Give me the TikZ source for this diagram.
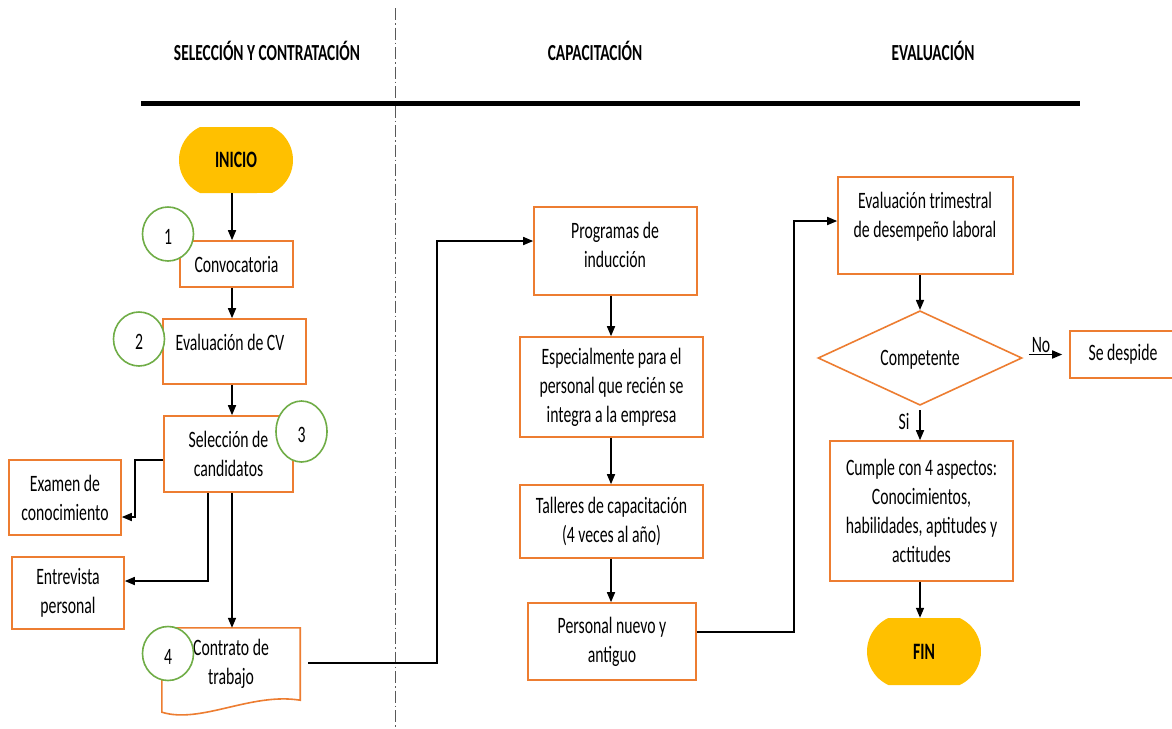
\documentclass[tikz,border=0pt]{standalone}
\usepackage{fontspec}
\setmainfont{Carlito}[FakeStretch=0.67]
\usetikzlibrary{arrows.meta,shapes.geometric,shapes.misc,calc}
\definecolor{orng}{HTML}{ED7D31}
\definecolor{gold}{HTML}{FFC000}
\definecolor{grn}{HTML}{70AD47}
\definecolor{dline}{HTML}{595959}
\begin{document}
\begin{tikzpicture}[x=1pt,y=-1pt,
  txt/.style={font=\fontsize{23.5}{29}\selectfont, align=center, inner sep=0pt},
  box/.style={draw=orng, line width=1.6pt, rectangle, inner sep=0pt, txt},
  term/.style={rounded rectangle, rounded rectangle arc length=130, fill=gold, inner sep=0pt,
    font=\fontsize{23.5}{29}\selectfont\bfseries, minimum width=114pt, minimum height=66pt},
  num/.style={ellipse, draw=grn, line width=1.6pt, fill=white, minimum width=51pt,
    minimum height=54pt, inner sep=0pt, text height=21pt, text depth=0pt, font=\fontsize{23.5}{29}\selectfont},
  con/.style={line width=1.6pt},
  arr/.style={line width=1.6pt, -{Triangle[length=10pt,width=8pt]}},
  head/.style={font=\fontsize{23}{28}\selectfont\bfseries, inner sep=0pt}]

\fill[white] (0,0) rectangle (1172,728);
\useasboundingbox (0,0) rectangle (1172,728);

% lane separators
\draw[dline, line width=0.8pt, dash pattern=on 12pt off 3pt on 1.5pt off 3pt] (395,8) -- (395,728);
\draw[line width=5pt] (141,103) -- (1080,103);

% headers
\node[head] (h1) at (267,51) {SELECCIÓN Y CONTRATACIÓN};
\node[head] (h2) at (595,51) {CAPACITACIÓN};
\node[head] (h3) at (933,51) {EVALUACIÓN};

% column 1
\node[term] (ini) at (236,160) {INICIO};
\node[box, minimum width=113pt, minimum height=46pt] (conv) at (236.5,264) {Convocatoria};
\node[box, minimum width=143pt, minimum height=65pt] (cv) at (234.5,351.5) {};
\node[txt] (cvT) at (230,342) {Evaluación de CV};
\node[box, minimum width=129pt, minimum height=76pt] (sel) at (228.5,454) {Selección de\\candidatos};
\node[box, minimum width=112pt, minimum height=75pt] (exam) at (65,497.5) {Examen de\\conocimiento};
\node[box, minimum width=112pt, minimum height=72pt] (entrev) at (68,593) {Entrevista\\personal};
\node[txt, minimum width=138pt, minimum height=72pt] (doc) at (231,664) {Contrato de\\trabajo};
\draw[orng, line width=1.6pt] ($(doc.south west)+(0,12)$) -- (doc.north west) -- (doc.north east)
  -- (doc.south east) .. controls ($(doc.south east)+(-49,-8)$) and ($(doc.south west)+(39,24)$)
  .. ($(doc.south west)+(0,12)$) -- cycle;

% column 2
\node[box, minimum width=163pt, minimum height=88pt] (prog) at (615.5,251) {};
\node[txt] (progT) at (615,245) {Programas de\\inducción};
\node[box, minimum width=183pt, minimum height=100pt] (esp) at (611.5,387) {Especialmente para el\\personal que recién se\\integra a la empresa};
\node[box, minimum width=183pt, minimum height=73pt] (tall) at (611.5,521.5) {Talleres de capacitación\\(4 veces al año)};
\node[box, minimum width=168pt, minimum height=77pt] (pers) at (612,641.5) {Personal nuevo y\\antiguo};

% column 3
\node[box, minimum width=175pt, minimum height=97pt] (evalt) at (925.5,225.5) {};
\node[txt] (evalT) at (925,217) {Evaluación trimestral\\de desempeño laboral};
\node[diamond, draw=orng, line width=1.6pt, minimum width=204pt, minimum height=79pt, inner sep=0pt, txt, text depth=0pt] (dia) at (920,358) {Competente};
\node[box, minimum width=106pt, minimum height=47pt] (desp) at (1123,354.5) {Se despide};
\node[box, minimum width=183pt, minimum height=140pt] (cum) at (921.5,511) {Cumple con 4 aspectos:\\Conocimientos,\\habilidades, aptitudes y\\actitudes};
\node[term, minimum height=67pt] (fin) at (924,651.5) {FIN};

% step numbers
\node[num] (n1) at (168,234) {1};
\node[num] (n2) at (139,339) {2};
\node[num, minimum height=61pt] (n3) at (301.5,431.5) {3};
\node[num] (n4) at (168,653.5) {4};

% connectors column 1
\coordinate (ax) at (232,0);
\draw[arr] (ax |- ini.south) -- (ax |- conv.north);
\draw[arr] (ax |- conv.south) -- (ax |- cv.north);
\draw[arr] (ax |- cv.south) -- (ax |- sel.north);
\draw[arr] (ax |- sel.south) -- (ax |- doc.north);
\draw[arr] ([yshift=-6pt]sel.west) -- ++(-28,0) |- ([yshift=-19.5pt]exam.east);
\draw[arr] ([xshift=-20.5pt]sel.south) |- ([yshift=12pt]entrev.east);
\draw[arr] ([xshift=8pt,yshift=1pt]doc.east) -| ([xshift=-96pt,yshift=10pt]prog.west) -- ([yshift=10pt]prog.west);

% connectors column 2
\coordinate (bx) at (611,0);
\draw[arr] (bx |- prog.south) -- (bx |- esp.north);
\draw[arr] (bx |- esp.south) -- (bx |- tall.north);
\draw[arr] (bx |- tall.south) -- (bx |- pers.north);
\draw[arr] ([yshift=9.5pt]pers.east) -| ([xshift=-43pt,yshift=4.5pt]evalt.west) -- ([yshift=4.5pt]evalt.west);

% connectors column 3
\draw[arr] (dia.north |- evalt.south) -- (dia.north);
\draw[arr, shorten <=6pt, shorten >=7pt] (desp.west -| dia.east) -- (desp.west);
\node[txt] (nolab) at (1041,345) {No};
\draw[arr] ([yshift=-4pt]dia.south) -- (dia.south |- cum.north);
\node[txt] (silab) at (904,421) {Si};
\draw[arr] (dia.south |- cum.south) -- (dia.south |- fin.north);
\end{tikzpicture}
\end{document}
